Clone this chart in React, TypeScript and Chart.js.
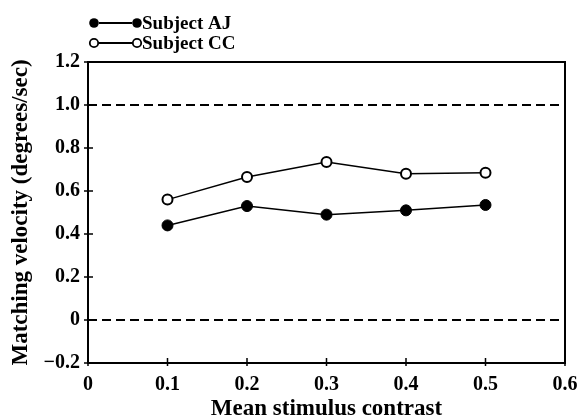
import React, { useEffect, useRef } from "react";
import { Chart, registerables } from "chart.js";

Chart.register(...registerables);

const contrast = [0.1, 0.2, 0.3, 0.4, 0.5];
const ajValues = [0.44, 0.53, 0.49, 0.51, 0.535];
const ccValues = [0.56, 0.665, 0.735, 0.68, 0.685];
const seriesLabels = ["Subject AJ", "Subject CC"];
const referenceLevels = [1.0, 0];
const xRange = [0, 0.6];
const yRange = [-0.2, 1.2];
const xTitle = "Mean stimulus contrast";
const yTitle = "Matching velocity (degrees/sec)";

const FONT = "'Liberation Serif', 'Times New Roman', serif";

const fmt = (v: number) => {
  if (Math.abs(v) < 1e-9) return "0";
  const s = Math.abs(v).toFixed(1);
  return v < 0 ? "\u2212" + s : s;
};

const framePlugin = {
  id: "frameTicks",
  afterDraw(chart: any) {
    const ctx = chart.ctx;
    const { left, top, right, bottom } = chart.chartArea;
    ctx.save();
    ctx.strokeStyle = "#000";
    ctx.lineWidth = 2;
    ctx.setLineDash([]);
    ctx.strokeRect(left, top, right - left, bottom - top);
    const xs = chart.scales.x;
    const ys = chart.scales.y;
    ctx.lineWidth = 1.5;
    ctx.beginPath();
    xs.ticks.forEach((t: any) => {
      const px = xs.getPixelForValue(t.value);
      ctx.moveTo(px, bottom - 5);
      ctx.lineTo(px, bottom + 3);
    });
    ys.ticks.forEach((t: any) => {
      const py = ys.getPixelForValue(t.value);
      ctx.moveTo(left - 4, py);
      ctx.lineTo(left + 5, py);
    });
    ctx.stroke();

    // legend
    const rows = [
      { label: seriesLabels[0], filled: true, y: 23 },
      { label: seriesLabels[1], filled: false, y: 43 },
    ];
    rows.forEach((r) => {
      ctx.lineWidth = 1.8;
      ctx.beginPath();
      ctx.moveTo(99, r.y);
      ctx.lineTo(132, r.y);
      ctx.stroke();
      [94, 137].forEach((cx) => {
        ctx.beginPath();
        ctx.arc(cx, r.y, r.filled ? 4.8 : 4.2, 0, Math.PI * 2);
        if (r.filled) {
          ctx.fillStyle = "#000";
          ctx.fill();
        } else {
          ctx.fillStyle = "#fff";
          ctx.fill();
          ctx.lineWidth = 1.8;
          ctx.stroke();
        }
      });
      ctx.fillStyle = "#000";
      ctx.font = `bold 19px ${FONT}`;
      ctx.textAlign = "left";
      ctx.textBaseline = "middle";
      ctx.fillText(r.label, 142, r.y + 1);
    });
    ctx.restore();
  },
};

export default function App() {
  const ref = useRef<HTMLCanvasElement | null>(null);
  useEffect(() => {
    document.body.style.margin = "0";
    if (!ref.current) return;
    const refDatasets = referenceLevels.map((lvl) => ({
      label: "ref" + lvl,
      data: [
        { x: xRange[0], y: lvl },
        { x: xRange[1], y: lvl },
      ],
      borderColor: "#000",
      borderWidth: 1.8,
      borderDash: [9, 5],
      pointRadius: 0,
      fill: false,
    }));
    const chart = new Chart(ref.current, {
      type: "line",
      data: {
        datasets: [
          {
            label: seriesLabels[0],
            data: contrast.map((x, i) => ({ x, y: ajValues[i] })),
            borderColor: "#000",
            backgroundColor: "#000",
            borderWidth: 1.5,
            pointRadius: 5.5,
            pointBorderWidth: 1,
            pointBackgroundColor: "#000",
            pointBorderColor: "#000",
            fill: false,
          },
          {
            label: seriesLabels[1],
            data: contrast.map((x, i) => ({ x, y: ccValues[i] })),
            borderColor: "#000",
            backgroundColor: "#fff",
            borderWidth: 1.5,
            pointRadius: 5,
            pointBorderWidth: 2,
            pointBackgroundColor: "#fff",
            pointBorderColor: "#000",
            fill: false,
          },
          ...refDatasets,
        ],
      },
      options: {
        animation: false,
        responsive: false,
        devicePixelRatio: 1,
        layout: { padding: { top: 62, right: 14, left: 0, bottom: 0 } },
        plugins: {
          legend: { display: false },
          tooltip: { enabled: false },
        },
        scales: {
          x: {
            type: "linear",
            min: xRange[0],
            max: xRange[1],
            grid: { display: false, drawTicks: false },
            border: { display: false },
            afterFit: (s: any) => {
              s.height = 57;
              s.paddingLeft = 0;
              s.paddingRight = 0;
            },
            ticks: {
              stepSize: 0.1,
              color: "#000",
              padding: 10,
              maxRotation: 0,
              font: { family: FONT, size: 20, weight: "bold", lineHeight: 1.2 },
              callback: (v: any) => fmt(Number(v)),
            },
            title: {
              display: true,
              text: xTitle,
              color: "#000",
              padding: { top: 0, bottom: -1 },
              font: { family: FONT, size: 23, weight: "bold", lineHeight: 1 },
            },
          },
          y: {
            type: "linear",
            min: yRange[0],
            max: yRange[1],
            grid: { display: false, drawTicks: false },
            border: { display: false },
            afterFit: (s: any) => {
              s.width = 88;
              s.paddingTop = 0;
              s.paddingBottom = 0;
            },
            ticks: {
              stepSize: 0.2,
              color: "#000",
              padding: 8,
              font: { family: FONT, size: 20, weight: "bold", lineHeight: 1.2 },
              callback: (v: any) => fmt(Number(v)),
            },
            title: {
              display: true,
              text: yTitle,
              color: "#000",
              padding: { top: 10, bottom: 0 },
              font: { family: FONT, size: 23, weight: "bold", lineHeight: 1 },
            },
          },
        },
      },
      plugins: [framePlugin],
    } as any);
    return () => chart.destroy();
  }, []);
  return (
    <div style={{ width: 579, height: 420, background: "#fff" }}>
      <canvas ref={ref} width={579} height={420} />
    </div>
  );
}
